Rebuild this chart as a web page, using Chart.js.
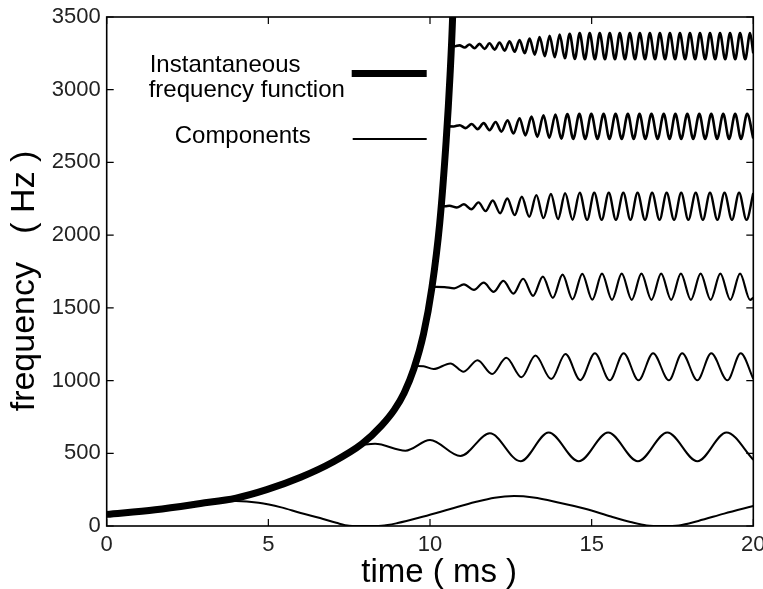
<!DOCTYPE html>
<html>
<head>
<meta charset="utf-8">
<script src="https://cdn.jsdelivr.net/npm/chart.js@4.4.1/dist/chart.umd.min.js"></script>
<style>
  html, body { margin: 0; padding: 0; background: #fff; }
  #wrap { width: 763px; height: 589px; position: relative; }
</style>
</head>
<body>
<div id="wrap"><canvas id="freqChart"></canvas></div>
<script>
// time in ms, frequency in Hz

var xTickValues = [0, 5, 10, 15, 20];
var yTickValues = [0, 500, 1000, 1500, 2000, 2500, 3000, 3500];
var legendLabels = [["Instantaneous", "frequency function"], "Components"];

// instantaneous frequency function (thick curve)
var instTime = [0, 1.5, 2.9, 4.0, 4.95, 6.0, 7.0, 7.9, 8.5, 8.9, 9.2, 9.5, 9.8, 10.06, 10.3, 10.5, 10.62, 10.7, 10.8];
var instFreq = [80, 112, 155, 192, 250, 335, 440, 565, 690, 800, 915, 1080, 1320, 1640, 2080, 2650, 3100, 3500, 4300];

// components, listed by turning points
var comp1Time = [3.3, 4.0, 4.7, 5.4, 6.0, 6.6, 7.1, 7.5, 8.0, 8.5, 9.0, 9.8, 10.6, 11.4, 12.0, 12.6, 13.2, 14.0, 14.8, 15.6, 16.2, 16.7, 17.2, 17.7, 18.3, 19.1, 20.0];
var comp1Freq = [165, 172, 160, 128, 89, 55, 22, 2, 0, 2, 20, 65, 115, 165, 195, 206, 196, 160, 118, 65, 28, 4, 0, 4, 35, 85, 137];

var comp2Time = [7.85, 8.3, 9.24, 10.0, 10.94, 11.85, 12.8, 13.67, 14.6, 15.51, 16.43, 17.34, 18.27, 19.17, 20.0];
var comp2Freq = [557, 565, 518, 591, 481, 637, 445, 643, 445, 643, 445, 643, 445, 643, 456];

var comp3Time = [9.52, 9.8, 10.11, 10.63, 11.04, 11.47, 11.92, 12.36, 12.83, 13.26, 13.75, 14.19, 14.65, 15.10, 15.56, 15.99, 16.45, 16.90, 17.39, 17.80, 18.27, 18.70, 19.20, 19.61, 20.0];
var comp3Freq = [1100, 1098, 1079, 1118, 1061, 1140, 1045, 1157, 1023, 1172, 1010, 1183, 1003, 1188, 1002, 1188, 1002, 1188, 1002, 1188, 1002, 1188, 1002, 1188, 1012];

var comp4Time = [10.06, 10.45, 10.75, 11.05, 11.36, 11.66, 11.97, 12.27, 12.58, 12.88, 13.19, 13.49,
  13.80, 14.10, 14.41, 14.71, 15.02, 15.32, 15.63, 15.93, 16.24, 16.54,
  16.85, 17.15, 17.46, 17.76, 18.07, 18.37, 18.68, 18.98, 19.29, 19.59, 19.90, 20.0];
var comp4Freq = [1645, 1643, 1634, 1661, 1623, 1673, 1610, 1685, 1598, 1700, 1583, 1715,
  1569, 1728, 1559, 1734, 1556, 1735, 1555, 1735, 1555, 1735,
  1555, 1735, 1555, 1735, 1555, 1735, 1555, 1735, 1555, 1735, 1555, 1570];

var comp5Time = [10.34, 10.47, 10.60, 10.83, 11.05, 11.28, 11.50, 11.72, 11.94, 12.17, 12.39, 12.62,
  12.84, 13.07, 13.29, 13.51, 13.74, 13.96, 14.18, 14.41, 14.63, 14.86, 15.08, 15.31,
  15.53, 15.75, 15.98, 16.20, 16.42, 16.65, 16.87, 17.10, 17.32, 17.55, 17.77, 17.99,
  18.22, 18.44, 18.66, 18.89, 19.11, 19.34, 19.56, 19.79, 20.0];
var comp5Freq = [2199, 2199, 2202, 2190, 2212, 2178, 2225, 2165, 2238, 2151, 2252, 2138,
  2264, 2126, 2275, 2117, 2283, 2110, 2288, 2106, 2291, 2105, 2291, 2105,
  2291, 2105, 2291, 2105, 2291, 2105, 2291, 2105, 2291, 2105, 2291, 2105,
  2291, 2105, 2291, 2105, 2291, 2105, 2291, 2105, 2290];

var comp6Time = [10.53, 10.73, 10.92, 11.10, 11.29, 11.47, 11.66, 11.84, 12.03, 12.21, 12.40, 12.58,
  12.77, 12.95, 13.14, 13.32, 13.51, 13.69, 13.88, 14.06, 14.25, 14.43, 14.62, 14.80,
  14.99, 15.18, 15.37, 15.55, 15.74, 15.93, 16.12, 16.30, 16.48, 16.66, 16.85, 17.04,
  17.23, 17.41, 17.59, 17.77, 17.96, 18.14, 18.33, 18.51, 18.70, 18.88, 19.07, 19.25,
  19.44, 19.62, 19.81, 20.0];
var comp6Freq = [2748, 2747, 2756, 2736, 2764, 2729, 2770, 2722, 2778, 2712, 2790, 2699,
  2804, 2686, 2815, 2676, 2824, 2669, 2830, 2664, 2833, 2662, 2834, 2662,
  2834, 2662, 2834, 2662, 2834, 2662, 2834, 2662, 2834, 2662, 2834, 2662,
  2834, 2662, 2834, 2662, 2834, 2662, 2834, 2662, 2834, 2662, 2834, 2662,
  2834, 2662, 2834, 2665];

var comp7Time = [10.66, 10.78, 10.91, 11.07, 11.22, 11.38, 11.53, 11.69, 11.84, 12.00, 12.15, 12.31,
  12.46, 12.62, 12.77, 12.93, 13.08, 13.24, 13.39, 13.55, 13.70, 13.86, 14.01, 14.17,
  14.32, 14.48, 14.63, 14.79, 14.94, 15.10, 15.25, 15.41, 15.56, 15.72, 15.87, 16.03,
  16.18, 16.34, 16.49, 16.65, 16.80, 16.96, 17.11, 17.27, 17.42, 17.58, 17.73, 17.89,
  18.04, 18.20, 18.35, 18.51, 18.66, 18.82, 18.97, 19.13, 19.28, 19.44, 19.59, 19.75,
  19.90, 20.0];
var comp7Freq = [3299, 3299, 3305, 3290, 3311, 3285, 3315, 3281, 3319, 3276, 3325, 3269,
  3333, 3261, 3342, 3251, 3352, 3241, 3362, 3231, 3371, 3223, 3379, 3216,
  3385, 3211, 3389, 3209, 3389, 3209, 3389, 3209, 3389, 3209, 3389, 3209,
  3389, 3209, 3389, 3209, 3389, 3209, 3389, 3209, 3389, 3209, 3389, 3209,
  3389, 3209, 3389, 3209, 3389, 3209, 3389, 3209, 3389, 3209, 3389, 3209,
  3389, 3250];

var FONT = "'Liberation Sans', Arial, Helvetica, sans-serif";

function toPoints(ts, fs) {
    return ts.map(function (t, i) {
        return { x: t, y: fs[i] };
    });
}

var components = [
    [comp1Time, comp1Freq],
    [comp2Time, comp2Freq],
    [comp3Time, comp3Freq],
    [comp4Time, comp4Freq],
    [comp5Time, comp5Freq],
    [comp6Time, comp6Freq],
    [comp7Time, comp7Freq],
];
// the fast upper components print a bit heavier
var componentWidths = [2, 2, 2, 2.2, 2.4, 2.6, 2.6];

// first dataset is drawn on top
var datasets = [
    {
        label: legendLabels[0].join(" "),
        data: toPoints(instTime, instFreq),
        borderColor: "#000",
        borderWidth: 7,
        borderCapStyle: "butt",
    },
];
components.forEach(function (c, i) {
    datasets.push({
        label: legendLabels[1],
        data: toPoints(c[0], c[1]),
        borderColor: "#000",
        borderWidth: componentWidths[i],
    });
});

// box frame, inward ticks on all four sides, and the key
var frameAndKey = {
    id: "frameAndKey",
    afterDraw: function (chart) {
        var ctx = chart.ctx;
        var a = chart.chartArea;
        var xs = chart.scales.x;
        var ys = chart.scales.y;
        var tl = 7;

        ctx.save();
        ctx.strokeStyle = "#000";
        ctx.lineWidth = 1.6;
        ctx.strokeRect(a.left, a.top, a.right - a.left, a.bottom - a.top);

        ctx.lineWidth = 1.2;
        ctx.beginPath();
        xs.ticks.forEach(function (t) {
            var px = xs.getPixelForValue(t.value);
            ctx.moveTo(px, a.bottom);
            ctx.lineTo(px, a.bottom - tl);
            ctx.moveTo(px, a.top);
            ctx.lineTo(px, a.top + tl);
        });
        ys.ticks.forEach(function (t) {
            var py = ys.getPixelForValue(t.value);
            ctx.moveTo(a.left, py);
            ctx.lineTo(a.left + tl, py);
            ctx.moveTo(a.right, py);
            ctx.lineTo(a.right - tl, py);
        });
        ctx.stroke();

        // key
        ctx.fillStyle = "#000";
        ctx.font = "24px " + FONT;
        ctx.textBaseline = "alphabetic";
        ctx.textAlign = "left";
        ctx.fillText(legendLabels[0][0], a.left + 43, a.top + 55);
        ctx.fillText(legendLabels[0][1], a.left + 42, a.top + 80);
        ctx.fillText(legendLabels[1], a.left + 68, a.top + 126);

        ctx.lineCap = "butt";
        ctx.lineWidth = 7;
        ctx.beginPath();
        ctx.moveTo(a.left + 245, a.top + 56.5);
        ctx.lineTo(a.left + 320, a.top + 56.5);
        ctx.stroke();
        ctx.lineWidth = 2.2;
        ctx.beginPath();
        ctx.moveTo(a.left + 246, a.top + 122);
        ctx.lineTo(a.left + 320, a.top + 122);
        ctx.stroke();
        ctx.restore();
    },
};

var freqChart = new Chart("freqChart", {
    type: "line",
    data: { datasets: datasets },
    options: {
        responsive: true,
        maintainAspectRatio: false,
        animation: false,
        parsing: false,
        layout: {
            padding: { left: 0, right: 9.7, top: 17, bottom: 0 },
        },
        elements: {
            point: { radius: 0 },
            line: { cubicInterpolationMode: "monotone", fill: false, borderJoinStyle: "round" },
        },
        plugins: {
            legend: { display: false },
            tooltip: { enabled: false },
        },
        scales: {
            x: {
                type: "linear",
                min: 0,
                max: 20,
                afterBuildTicks: function (scale) {
                    scale.ticks = xTickValues.map(function (v) { return { value: v }; });
                },
                afterFit: function (scale) {
                    scale.height = 63;
                    scale.paddingLeft = 0;
                    scale.paddingRight = 0;
                },
                grid: { display: false, drawTicks: false },
                border: { display: false },
                ticks: {
                    padding: 6,
                    maxRotation: 0,
                    color: "#222",
                    font: { family: FONT, size: 22 },
                    callback: function (value) { return String(value); },
                },
                title: {
                    display: true,
                    // leading spaces push the centred title a little right of the axis middle
                    text: "  time ( ms )",
                    color: "#000",
                    font: { family: FONT, size: 33 },
                    padding: { top: 0, bottom: -4 },
                },
            },
            y: {
                type: "linear",
                min: 0,
                max: 3500,
                afterBuildTicks: function (scale) {
                    scale.ticks = yTickValues.map(function (v) { return { value: v }; });
                },
                afterFit: function (scale) {
                    scale.width = 106.7;
                    scale.paddingTop = 0;
                    scale.paddingBottom = 0;
                },
                grid: { display: false, drawTicks: false },
                border: { display: false },
                ticks: {
                    padding: 6,
                    color: "#222",
                    font: { family: FONT, size: 22 },
                    callback: function (value) { return String(value); },
                },
                title: {
                    display: true,
                    // trailing spaces push the rotated title down a little
                    text: "frequency   ( Hz )  ",
                    color: "#000",
                    font: { family: FONT, size: 34 },
                    padding: { top: 4, bottom: 0 },
                },
            },
        },
    },
    plugins: [frameAndKey],
});
</script>
</body>
</html>
